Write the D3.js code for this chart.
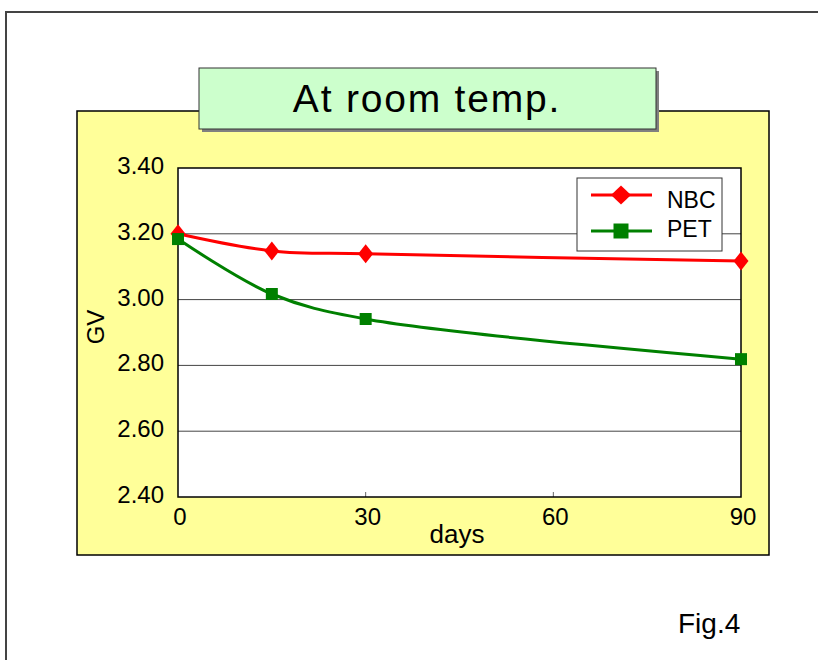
<!DOCTYPE html>
<html>
<head>
<meta charset="utf-8">
<script src="https://cdn.jsdelivr.net/npm/d3@7"></script>
<style>
  html, body { margin: 0; padding: 0; background: #fff; }
  svg { display: block; font-family: Arial, "Liberation Sans", sans-serif; }
</style>
</head>
<body>
<div id="chart"></div>
<script>
// data
const days = [0, 15, 30, 90];
const nbcValues = [3.20, 3.148, 3.139, 3.117];
const petValues = [3.184, 3.017, 2.941, 2.819];
const xTicks = [0, 30, 60, 90];
const yTicks = [2.40, 2.60, 2.80, 3.00, 3.20, 3.40];
const seriesNames = ['NBC', 'PET'];

const width = 818, height = 660;
const plot = {left: 178, top: 168, right: 741, bottom: 497};

const svg = d3.select('#chart').append('svg')
    .attr('width', width)
    .attr('height', height);

// outer frame
svg.append('rect')
    .attr('x', 6).attr('y', 12)
    .attr('width', 830).attr('height', 700)
    .attr('fill', 'none')
    .attr('stroke', '#444')
    .attr('stroke-width', 2);

// yellow chart panel
svg.append('rect')
    .attr('x', 77).attr('y', 111)
    .attr('width', 692).attr('height', 444)
    .attr('fill', '#ffff99')
    .attr('stroke', '#000')
    .attr('stroke-width', 1.5);

// title box with shadow
svg.append('rect')
    .attr('x', 202).attr('y', 71)
    .attr('width', 457).attr('height', 61)
    .attr('fill', '#808080');
svg.append('rect')
    .attr('x', 199).attr('y', 68)
    .attr('width', 457).attr('height', 61)
    .attr('fill', '#ccffcc')
    .attr('stroke', '#333')
    .attr('stroke-width', 1);
svg.append('text')
    .attr('x', 427).attr('y', 112)
    .attr('text-anchor', 'middle')
    .attr('font-size', 39)
    .attr('letter-spacing', 1.8)
    .text('At room temp.');

const x = d3.scaleLinear().domain([0, 90]).range([plot.left, plot.right]);
const y = d3.scaleLinear().domain([2.40, 3.40]).range([plot.bottom, plot.top]);

// plot area
svg.append('rect')
    .attr('x', plot.left).attr('y', plot.top)
    .attr('width', plot.right - plot.left).attr('height', plot.bottom - plot.top)
    .attr('fill', '#fff');

// gridlines
svg.append('g')
    .selectAll('line')
    .data(yTicks.slice(1, -1))
    .join('line')
    .attr('x1', plot.left).attr('x2', plot.right)
    .attr('y1', d => y(d)).attr('y2', d => y(d))
    .attr('stroke', '#444')
    .attr('stroke-width', 1);

// small inward x ticks
svg.append('g')
    .selectAll('line')
    .data(xTicks.slice(1, -1))
    .join('line')
    .attr('x1', d => x(d)).attr('x2', d => x(d))
    .attr('y1', plot.bottom).attr('y2', plot.bottom - 5)
    .attr('stroke', '#666');

svg.append('rect')
    .attr('x', plot.left).attr('y', plot.top)
    .attr('width', plot.right - plot.left).attr('height', plot.bottom - plot.top)
    .attr('fill', 'none')
    .attr('stroke', '#000')
    .attr('stroke-width', 1.5);

// tick labels
svg.append('g')
    .selectAll('text')
    .data(yTicks)
    .join('text')
    .attr('x', 164)
    .attr('y', d => y(d) + 6)
    .attr('text-anchor', 'end')
    .attr('font-size', 24)
    .text(d => d.toFixed(2));

svg.append('g')
    .selectAll('text')
    .data(xTicks)
    .join('text')
    .attr('x', d => x(d) + 2)
    .attr('y', 525)
    .attr('text-anchor', 'middle')
    .attr('font-size', 24)
    .text(d => d);

svg.append('text')
    .attr('x', 457).attr('y', 543)
    .attr('text-anchor', 'middle')
    .attr('font-size', 26)
    .text('days');

svg.append('text')
    .attr('transform', 'translate(104,327) rotate(-90)')
    .attr('text-anchor', 'middle')
    .attr('font-size', 24)
    .text('GV');

// markers: diamond (w x h) and square
function diamond(w, h) {
    return `M0,${-h / 2}L${w / 2},0L0,${h / 2}L${-w / 2},0Z`;
}
function square(s) {
    return `M${-s / 2},${-s / 2}h${s}v${s}h${-s}Z`;
}

const series = [
    {name: seriesNames[0], values: nbcValues, color: '#ff0000',
     mark: diamond(15, 19), legendMark: diamond(20, 19)},
    {name: seriesNames[1], values: petValues, color: '#008000',
     mark: square(12), legendMark: square(15)}
];

const line = d3.line()
    .x(d => x(d[0]))
    .y(d => y(d[1]))
    .curve(d3.curveCatmullRom.alpha(0.5));

series.forEach(s => {
    const pts = days.map((d, i) => [d, s.values[i]]);
    svg.append('path')
        .datum(pts)
        .attr('d', line)
        .attr('fill', 'none')
        .attr('stroke', s.color)
        .attr('stroke-width', 3);
    svg.append('g')
        .selectAll('path')
        .data(pts)
        .join('path')
        .attr('transform', d => `translate(${x(d[0])},${y(d[1])})`)
        .attr('d', s.mark)
        .attr('fill', s.color);
});

// legend
const legend = svg.append('g').attr('transform', 'translate(577,178)');
legend.append('rect')
    .attr('width', 145).attr('height', 73)
    .attr('fill', '#fff')
    .attr('stroke', '#333')
    .attr('stroke-width', 1);
const legendRows = [{ly: 17, ty: 30}, {ly: 53, ty: 59}];
series.forEach((s, i) => {
    const r = legendRows[i];
    legend.append('line')
        .attr('x1', 14).attr('x2', 75)
        .attr('y1', r.ly).attr('y2', r.ly)
        .attr('stroke', s.color)
        .attr('stroke-width', 3);
    legend.append('path')
        .attr('transform', `translate(44,${r.ly})`)
        .attr('d', s.legendMark)
        .attr('fill', s.color);
    legend.append('text')
        .attr('x', 90).attr('y', r.ty)
        .attr('font-size', 23)
        .text(s.name);
});

svg.append('text')
    .attr('x', 678).attr('y', 633)
    .attr('font-size', 28)
    .text('Fig.4');
</script>
</body>
</html>
